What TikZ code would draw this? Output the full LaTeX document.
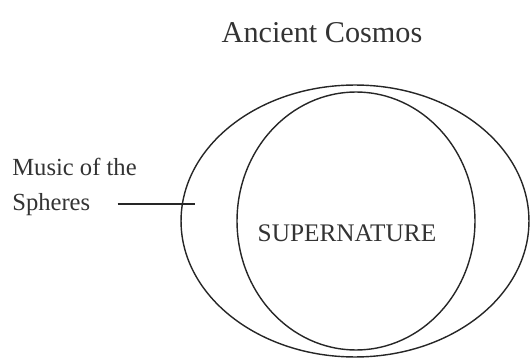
\documentclass[tikz,border=0pt]{standalone}
\usepackage{fontspec}
\setmainfont{Liberation Serif}
\usetikzlibrary{shapes.geometric, positioning}
\tikzset{
    sphere/.style={
        ellipse,
        draw=black!85,
        line width=0.8pt,
        inner sep=0pt
    },
    caption/.style={
        font=\fontsize{14}{17}\selectfont,
        text=black!80,
        inner sep=0pt
    },
    thinline/.style={
        draw=black!85,
        line width=0.8pt
    }
}

\begin{document}
\begin{tikzpicture}[x=0.02cm, y=-0.02cm]
\useasboundingbox (0,0) rectangle (531,358);

% Title
\node[caption, font=\fontsize{17.2}{21}\selectfont, anchor=base] (title) at (322,43) {Ancient Cosmos};

% The two spheres
\node[sphere, minimum width=6.96cm, minimum height=5.44cm] (cosmos) at (355,221) {};
\node[sphere, minimum width=4.76cm, minimum height=5.16cm] (nature) at (356,221) {};
\node[caption, font=\fontsize{14.4}{17}\selectfont, anchor=base] (naturetext) at (347,241) {SUPERNATURE};

% Label on the left
\node[caption, anchor=base west] (music) at (12,175) {Music of the};
\node[caption, anchor=base west] (spheres) at (12,211) {Spheres};
\coordinate (tip) at (195,204);

\draw[thinline] ([xshift=0.54cm]spheres.east |- tip) -- (tip);

\end{tikzpicture}
\end{document}
